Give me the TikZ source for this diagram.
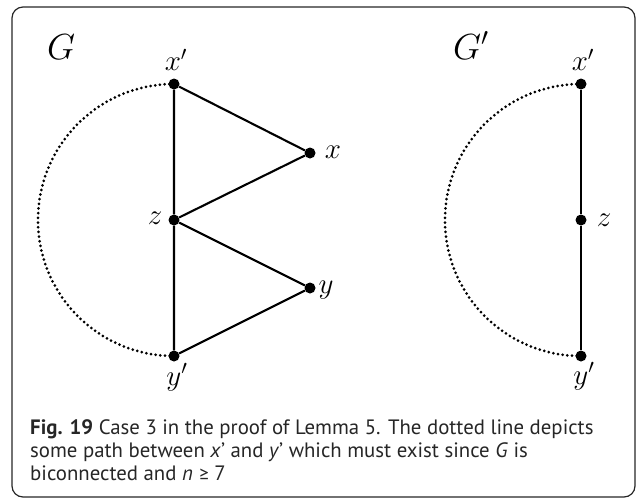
\documentclass[tikz,border=0pt]{standalone}
\usepackage{fontspec}
\newfontfamily\capfont{PT Sans}
\newfontfamily\symfont{Carlito}
\newcommand{\biglbl}[1]{\scalebox{1.4}{\huge #1}}
\newcommand{\hugelbl}[1]{\scalebox{1.75}{\huge #1}}
\begin{document}
\begin{tikzpicture}[x=1pt,y=-1pt,
  vtx/.style={circle,fill=black,inner sep=0pt,minimum size=11pt},
  edge/.style={line width=2.1pt,black},
  pathdots/.style={line width=3pt,dash pattern=on 0pt off 4.7pt,line cap=round},
  lbl/.style={inner sep=0pt},
  glbl/.style={inner sep=0pt,anchor=base west},
  captxt/.style={inner sep=0pt,anchor=base west,text=black!85,font=\capfont\fontsize{20.8}{24}\selectfont}]
\useasboundingbox (0,0) rectangle (637,499);
\draw[line width=1.2pt,black!85,rounded corners=11pt] (12,7) rectangle (635,497);
% left graph
\node[glbl] (G) at (47,59) {\hugelbl{$G$}};
\node[vtx] (xp) at (174,84) {};
\node[vtx] (x) at (310,153) {};
\node[vtx] (z) at (174,220) {};
\node[vtx] (y) at (310,288) {};
\node[vtx] (yp) at (174,356) {};
\draw[edge] (xp) -- (x) -- (z) -- (y) -- (yp) -- (z) -- (xp);
\draw[pathdots] (xp.center) arc[start angle=270,end angle=90,radius=136];
\node[lbl] (xpl) at (176,60) {\biglbl{$x'$}};
\node[lbl] (xl) at (333,152) {\biglbl{$x$}};
\node[lbl] (zl) at (155,218) {\biglbl{$z$}};
\node[lbl] (yl) at (326,290) {\biglbl{$y$}};
\node[lbl] (ypl) at (177,377) {\biglbl{$y'$}};
% right graph
\node[glbl] (Gp) at (453,59) {\hugelbl{$G'$}};
\node[vtx] (rxp) at (581,84) {};
\node[vtx] (rz) at (581,220) {};
\node[vtx] (ryp) at (581,356) {};
\draw[edge] (rxp) -- (rz) -- (ryp);
\draw[pathdots] (rxp.center) arc[start angle=270,end angle=90,radius=136];
\node[lbl] (rxpl) at (583,60) {\biglbl{$x'$}};
\node[lbl] (rzl) at (604,220) {\biglbl{$z$}};
\node[lbl] (rypl) at (584,376) {\biglbl{$y'$}};
% caption
\node[captxt] (c1) at (30,434) {\textbf{Fig. 19} Case 3 in the proof of Lemma 5. The dotted line depicts};
\node[captxt] (c2) at (30,457) {some path between \textit{x}\textquoteright\ and \textit{y}\textquoteright\ which must exist since \textit{G} is};
\node[captxt] (c3) at (30,480) {biconnected and \textit{n} {\symfont ≥} 7};
\end{tikzpicture}
\end{document}
